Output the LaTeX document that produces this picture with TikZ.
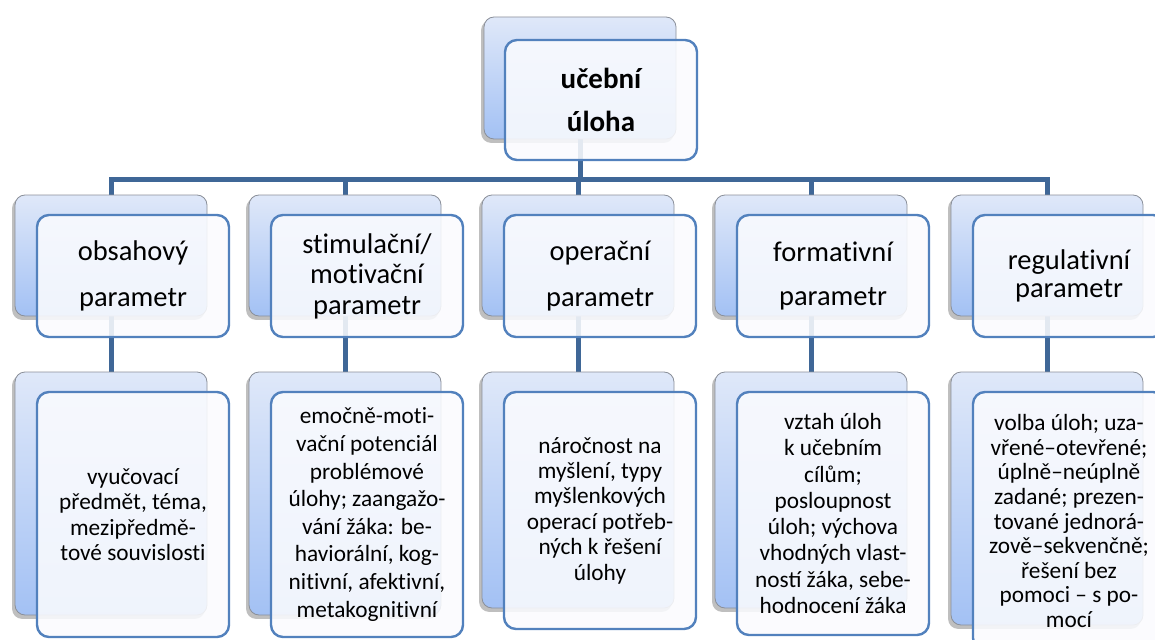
\documentclass[tikz,border=0pt]{standalone}
\usepackage{fontspec}
\setmainfont{Carlito}
\newcommand{\tk}{t\kern0pt\relax}
\definecolor{conncol}{HTML}{3F6797}
\definecolor{frontedge}{HTML}{5281BD}
\definecolor{backtop}{HTML}{DFE8F9}
\definecolor{backbot}{HTML}{A3C1F4}
\definecolor{backedge}{HTML}{8A8F99}
\definecolor{frontfill}{HTML}{FAFBFE}
\pgfdeclarelayer{bg}
\pgfsetlayers{bg,main}
\begin{document}
\begin{tikzpicture}[x=1pt,y=-1pt,
  backbox/.style={rectangle, rounded corners=10pt, draw=backedge, line width=0.8pt,
    top color=backtop, bottom color=backbot, minimum width=192pt, inner sep=0pt},
  frontbox/.style={rectangle, rounded corners=12pt, draw=frontedge, line width=2.4pt,
    fill=frontfill, fill opacity=0.88, text opacity=1, text=black, minimum width=192pt,
    align=center, inner sep=0pt},
  conn/.style={draw=conncol, line width=5pt, line join=miter},
  shadowbox/.style={fill=black, opacity=0.25, rounded corners=10pt},
  midA/.style={font=\fontsize{28.5}{46}\selectfont},
  midB/.style={font=\fontsize{28.5}{30.5}\selectfont},
  bot/.style={font=\fontsize{23.3}{#1}\selectfont}
]
\useasboundingbox (0,0) rectangle (1155,639);
\clip (0,0) rectangle (1155,639);

% top level
\node[backbox, minimum height=122pt] (t0) at (580,78) {};
\node[frontbox, minimum height=120pt, font=\bfseries\fontsize{29}{43}\selectfont] (f0) at (601,100) {učební\\úloha};

% middle level back boxes
\node[backbox, minimum height=121pt] (mb1) at (111,255.5) {};
\node[backbox, minimum height=121pt] (mb2) at (345,255.5) {};
\node[backbox, minimum height=121pt] (mb3) at (578,255.5) {};
\node[backbox, minimum height=121pt] (mb4) at (811,255.5) {};
\node[backbox, minimum height=121pt] (mb5) at (1047,255.5) {};
% middle level front boxes
\node[frontbox, minimum height=122pt, midA] (mf1) at (133,276) {obsahový\\parametr};
\node[frontbox, minimum height=122pt, midB] (mf2) at (367,276) {s\tk imulační/\\mo\tk ivační\\parametr};
\node[frontbox, minimum height=122pt, midA] (mf3) at (600,276) {operační\\parametr};
\node[frontbox, minimum height=122pt, font=\fontsize{28.5}{44}\selectfont] (mf4) at (833,276) {forma\tk ivní\\parametr};
\node[frontbox, minimum height=122pt, font=\fontsize{28.5}{28}\selectfont] (mf5) at (1069,276) {regula\tk ivní\\parametr};

% bottom level back boxes
\node[backbox, minimum height=243pt] (bb1) at (111,493.5) {};
\node[backbox, minimum height=243pt] (bb2) at (345,493.5) {};
\node[backbox, minimum height=236pt] (bb3) at (578,490) {};
\node[backbox, minimum height=236pt] (bb4) at (811,490) {};
\node[backbox, minimum height=253pt] (bb5) at (1047,498.5) {};
% bottom level front boxes
\node[frontbox, minimum height=245pt, bot=25.3] (bf1) at (133,514.5)
  {vyučovací\\předmět, téma,\\mezipředmě-\\tové souvislos\tk i};
\node[frontbox, minimum height=245pt, bot=27.6] (bf2) at (367,514.5)
  {emočně-mo\tk i-\\vační potenciál\\problémové\\úlohy; zaangažo-\\vání žáka: be-\\haviorální, kog-\\ni\tk ivní, afek\tk ivní,\\metakogni\tk ivní};
\node[frontbox, minimum height=237pt, bot=25.4] (bf3) at (600,510.5)
  {náročnost na\\myšlení, typy\\myšlenkových\\operací potřeb-\\ných k řešení\\úlohy};
\node[frontbox, minimum height=243pt, bot=26.3] (bf4) at (833,513.5)
  {vztah úloh\\k učebním\\cílům;\\posloupnost\\úloh; výchova\\vhodných vlast-\\ností žáka, sebe-\\hodnocení žáka};
\node[frontbox, minimum height=258pt, bot=24.6] (bf5) at (1069,521)
  {volba úloh; uza-\\vřené–otevřené;\\úplně–neúplně\\zadané; prezen-\\tované jednorá-\\zově–sekvenčně;\\řešení bez\\pomoci – s po-\\mocí};

\begin{pgfonlayer}{bg}
  % shadows
  \foreach \n in {t0,mb1,mb2,mb3,mb4,mb5,bb1,bb2,bb3,bb4,bb5}{
    \fill[shadowbox] ([shift={(-2.5,3.5)}]\n.north west) rectangle ([shift={(-2.5,3.5)}]\n.south east);
  }
  % connectors
  \coordinate (hub) at (580,179);
  \draw[conn] (t0.south) -- (hub);
  \foreach \n in {mb1,mb2,mb3,mb4,mb5}{
    \draw[conn] (hub) -| (\n.north);
  }
  \draw[conn] (mb1.south) -- (bb1.north);
  \draw[conn] (mb2.south) -- (bb2.north);
  \draw[conn] (mb3.south) -- (bb3.north);
  \draw[conn] (mb4.south) -- (bb4.north);
  \draw[conn] (mb5.south) -- (bb5.north);
\end{pgfonlayer}
\end{tikzpicture}
\end{document}
